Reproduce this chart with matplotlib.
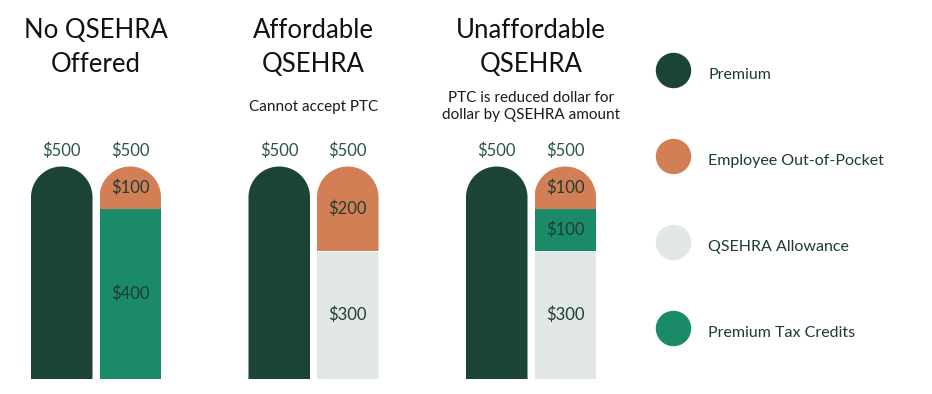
import matplotlib

matplotlib.use("Agg")
import matplotlib.pyplot as plt
import numpy as np
from matplotlib.lines import Line2D
from matplotlib.path import Path

plt.rcParams["font.family"] = ["Lato", "DejaVu Sans"]

# data
group_titles = ["No QSEHRA\nOffered", "Affordable\nQSEHRA", "Unaffordable\nQSEHRA"]
group_notes = ["", "Cannot accept PTC", "PTC is reduced dollar for\ndollar by QSEHRA amount"]
premium = [500, 500, 500]
qsehra_allowance = [0, 300, 300]
tax_credits = [400, 0, 100]
out_of_pocket = [100, 200, 100]
legend_labels = ["Premium", "Employee Out-of-Pocket", "QSEHRA Allowance", "Premium Tax Credits"]

colors = {
    "premium": "#1B4336",
    "oop": "#D37F56",
    "allowance": "#E1E7E6",
    "ptc": "#1A8A68",
}
label_color = "#1F3D33"

# layout (pixels of a 932x394 canvas)
W, H = 932, 394
GROUP_X0, GROUP_STEP = 96, 217.5
BASE_PX, PX_PER_DOLLAR = 15, 0.425
BAR_W = 61.5 / GROUP_STEP
OFFSET = 34.25 / GROUP_STEP

fig = plt.figure(figsize=(W / 100, H / 100), dpi=100)
ax = fig.add_axes([0, 0, 1, 1])
ax.set_xlim(-GROUP_X0 / GROUP_STEP, (W - GROUP_X0) / GROUP_STEP)
ax.set_ylim(-BASE_PX / PX_PER_DOLLAR, (H - BASE_PX) / PX_PER_DOLLAR)
ax.axis("off")

x = np.arange(len(group_titles))
x_prem = x - OFFSET
x_stack = x + OFFSET

# vertical radius (data units) that makes the bar cap a true semicircle
p0 = ax.transData.transform((0, 0))
p1 = ax.transData.transform((1, 1))
r_x = BAR_W / 2
r_y = r_x * (p1[0] - p0[0]) / (p1[1] - p0[1])


def rounded_column(xc, top):
    t = np.linspace(0, np.pi, 60)
    arc = np.column_stack([xc + r_x * np.cos(t), top - r_y + r_y * np.sin(t)])
    verts = np.vstack([[xc - r_x, 0], [xc + r_x, 0], arc, [[xc - r_x, 0]]])
    return Path(verts, closed=True)


prem_bars = ax.bar(x_prem, premium, width=BAR_W, color=colors["premium"])
seg_a = ax.bar(x_stack, qsehra_allowance, width=BAR_W, color=colors["allowance"])
bottom2 = np.array(qsehra_allowance)
seg_p = ax.bar(x_stack, tax_credits, width=BAR_W, bottom=bottom2, color=colors["ptc"])
bottom3 = bottom2 + np.array(tax_credits)
seg_o = ax.bar(x_stack, out_of_pocket, width=BAR_W, bottom=bottom3, color=colors["oop"])
totals = bottom3 + np.array(out_of_pocket)

for i in range(len(x)):
    prem_bars[i].set_clip_path(rounded_column(x_prem[i], premium[i]), ax.transData)
    clip = rounded_column(x_stack[i], totals[i])
    for seg in (seg_a, seg_p, seg_o):
        seg[i].set_clip_path(clip, ax.transData)

# segment labels
for bars, vals, bots in (
    (seg_a, qsehra_allowance, np.zeros(3)),
    (seg_p, tax_credits, bottom2),
    (seg_o, out_of_pocket, bottom3),
):
    for i, v in enumerate(vals):
        if v:
            ax.text(x_stack[i], bots[i] + v / 2, f"${v}", ha="center", va="center",
                    fontsize=12, color=label_color)

# totals above each column
for xs, vals in ((x_prem, premium), (x_stack, totals)):
    for i, v in enumerate(vals):
        ax.annotate(f"${v}", (xs[i], v), xytext=(0, 11.5), textcoords="offset points",
                    ha="center", va="center", fontsize=12, color="#2C5546")

# titles and notes
xtr = ax.get_xaxis_transform()
for i, (title, note) in enumerate(zip(group_titles, group_notes)):
    ax.text(x[i], 1 - 47.5 / H, title, transform=xtr, ha="center", va="center",
            fontsize=18.5, color="#111111", linespacing=1.45)
    if note:
        ax.text(x[i], 1 - 106.5 / H, note, transform=xtr, ha="center", va="center",
                fontsize=11, color="#1A1A1A", linespacing=1.35)

# legend
handles = [
    Line2D([], [], linestyle="none", marker="o", markersize=24.5,
           markerfacecolor=c, markeredgecolor=c)
    for c in (colors["premium"], colors["oop"], colors["allowance"], colors["ptc"])
]
fs = 11.5
fs_px = fs * 100 / 72
fig.legend(
    handles, legend_labels,
    loc="upper left",
    bbox_to_anchor=((673 - 17) / W, 1 - (78 - 17) / H),
    frameon=False, fontsize=fs, borderpad=0, borderaxespad=0,
    handlelength=34 / fs_px, handleheight=34 / fs_px,
    handletextpad=18 / fs_px, labelspacing=(94 - 34) / fs_px,
    labelcolor="#1D3B31",
)

fig.savefig("out.png", dpi=100)
